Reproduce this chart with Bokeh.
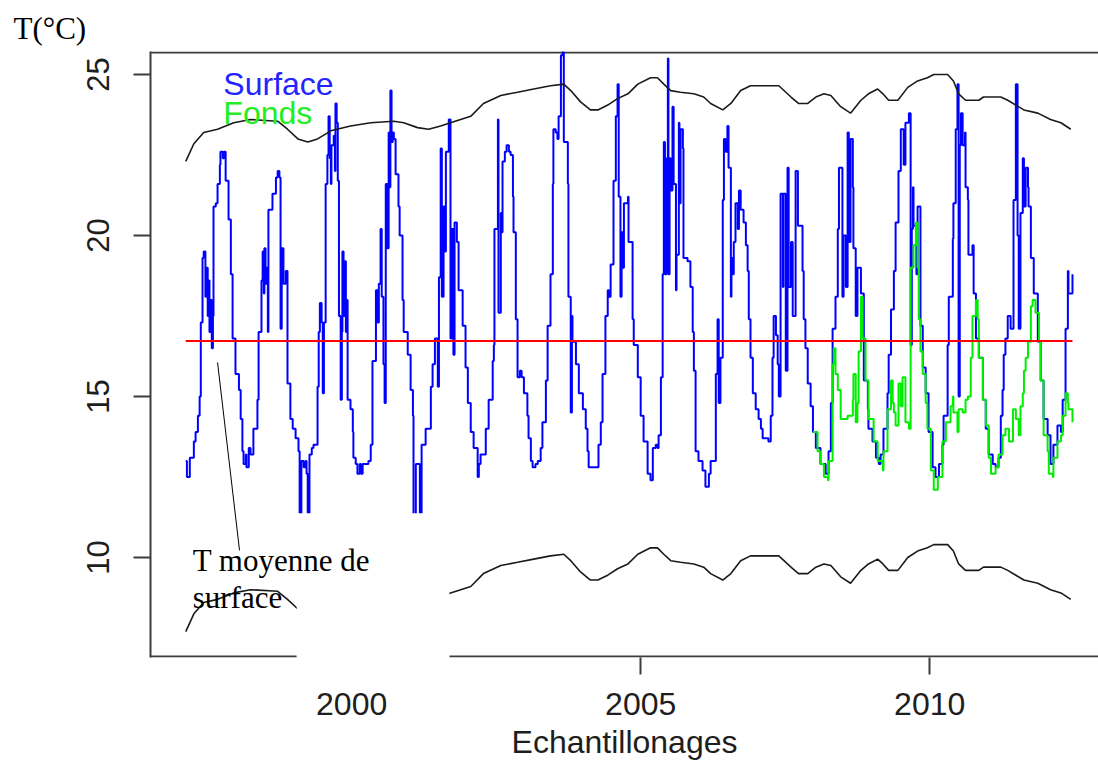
from bokeh.plotting import figure
from bokeh.models import Range1d, LinearAxis, FixedTicker, BoxAnnotation, Label
from bokeh.embed import file_html
from bokeh.resources import INLINE

# ---------------- data ----------------
surface_annee = [
    1997.13, 1997.15, 1997.20, 1997.27, 1997.30, 1997.34, 1997.37, 1997.39, 1997.42, 1997.44,
    1997.47, 1997.49, 1997.51, 1997.53, 1997.54, 1997.56, 1997.58, 1997.60, 1997.61, 1997.65,
    1997.68, 1997.72, 1997.73, 1997.77, 1997.79, 1997.82, 1997.87, 1997.91, 1997.94, 1997.99,
    1998.05, 1998.08, 1998.11, 1998.13, 1998.17, 1998.18, 1998.22, 1998.25, 1998.30, 1998.37,
    1998.39, 1998.44, 1998.46, 1998.48, 1998.49, 1998.51, 1998.53, 1998.55, 1998.56, 1998.63,
    1998.69, 1998.72, 1998.75, 1998.77, 1998.79, 1998.82, 1998.86, 1998.89, 1998.94, 1998.98,
    1999.03, 1999.08, 1999.10, 1999.13, 1999.17, 1999.20, 1999.22, 1999.24, 1999.27, 1999.31,
    1999.34, 1999.41, 1999.43, 1999.45, 1999.48, 1999.50, 1999.52, 1999.55, 1999.58, 1999.60,
    1999.62, 1999.64, 1999.65, 1999.69, 1999.71, 1999.72, 1999.74, 1999.76, 1999.78, 1999.81,
    1999.83, 1999.84, 1999.86, 1999.88, 1999.90, 1999.91, 1999.93, 1999.98, 2000.02, 2000.03,
    2000.07, 2000.10, 2000.14, 2000.16, 2000.19, 2000.29, 2000.33, 2000.36, 2000.42, 2000.45,
    2000.47, 2000.50, 2000.52, 2000.55, 2000.57, 2000.59, 2000.62, 2000.64, 2000.66, 2000.67,
    2000.69, 2000.71, 2000.73, 2000.76, 2000.81, 2000.83, 2000.88, 2000.90, 2000.97, 2001.02,
    2001.06, 2001.07, 2001.11, 2001.18, 2001.21, 2001.28, 2001.37, 2001.40, 2001.44, 2001.49,
    2001.51, 2001.54, 2001.56, 2001.59, 2001.61, 2001.63, 2001.68, 2001.71, 2001.73, 2001.76,
    2001.78, 2001.82, 2001.85, 2001.92, 2001.97, 2002.01, 2002.06, 2002.11, 2002.18, 2002.20,
    2002.23, 2002.32, 2002.37, 2002.44, 2002.46, 2002.47, 2002.53, 2002.54, 2002.58, 2002.60,
    2002.61, 2002.65, 2002.68, 2002.72, 2002.75, 2002.79, 2002.80, 2002.84, 2002.87, 2002.91,
    2002.94, 2002.98, 2003.04, 2003.06, 2003.10, 2003.13, 2003.18, 2003.22, 2003.27, 2003.30,
    2003.36, 2003.39, 2003.44, 2003.48, 2003.49, 2003.53, 2003.56, 2003.58, 2003.62, 2003.65,
    2003.67, 2003.74, 2003.75, 2003.79, 2003.81, 2003.82, 2003.88, 2003.93, 2004.00, 2004.05,
    2004.08, 2004.10, 2004.27, 2004.31, 2004.34, 2004.39, 2004.43, 2004.45, 2004.48, 2004.53,
    2004.57, 2004.60, 2004.62, 2004.65, 2004.67, 2004.69, 2004.71, 2004.78, 2004.79, 2004.86,
    2004.88, 2004.95, 2005.00, 2005.05, 2005.12, 2005.17, 2005.21, 2005.26, 2005.29, 2005.31,
    2005.35, 2005.38, 2005.40, 2005.42, 2005.45, 2005.47, 2005.48, 2005.50, 2005.52, 2005.55,
    2005.57, 2005.61, 2005.62, 2005.66, 2005.67, 2005.69, 2005.73, 2005.74, 2005.81, 2005.86,
    2005.90, 2005.92, 2005.95, 2006.00, 2006.07, 2006.12, 2006.18, 2006.21, 2006.30, 2006.33,
    2006.35, 2006.38, 2006.42, 2006.44, 2006.47, 2006.50, 2006.52, 2006.56, 2006.57, 2006.59,
    2006.61, 2006.64, 2006.68, 2006.70, 2006.73, 2006.78, 2006.82, 2006.85, 2006.87, 2006.90,
    2006.94, 2006.99, 2007.04, 2007.08, 2007.11, 2007.21, 2007.25, 2007.28, 2007.30, 2007.34,
    2007.37, 2007.39, 2007.42, 2007.46, 2007.47, 2007.51, 2007.54, 2007.56, 2007.60, 2007.63,
    2007.68, 2007.72, 2007.77, 2007.80, 2007.82, 2007.85, 2007.89, 2007.94, 2007.98, 2008.03,
    2008.11, 2008.20, 2008.25, 2008.29, 2008.32, 2008.37, 2008.41, 2008.43, 2008.48, 2008.49,
    2008.51, 2008.55, 2008.58, 2008.60, 2008.63, 2008.67, 2008.68, 2008.72, 2008.75, 2008.81,
    2008.86, 2008.93, 2008.94, 2009.01, 2009.07, 2009.12, 2009.15, 2009.20, 2009.27, 2009.29,
    2009.33, 2009.38, 2009.41, 2009.46, 2009.50, 2009.55, 2009.58, 2009.64, 2009.67, 2009.69,
    2009.71, 2009.72, 2009.77, 2009.79, 2009.84, 2009.88, 2009.93, 2009.98, 2010.05, 2010.10,
    2010.16, 2010.22, 2010.24, 2010.31, 2010.33, 2010.40, 2010.41, 2010.45, 2010.48, 2010.50,
    2010.52, 2010.54, 2010.57, 2010.61, 2010.62, 2010.66, 2010.67, 2010.71, 2010.74, 2010.76,
    2010.80, 2010.85, 2010.92, 2010.97, 2011.02, 2011.09, 2011.14, 2011.19, 2011.23, 2011.26,
    2011.28, 2011.31, 2011.35, 2011.40, 2011.45, 2011.49, 2011.52, 2011.54, 2011.57, 2011.61,
    2011.63, 2011.66, 2011.70, 2011.71, 2011.75, 2011.80, 2011.87, 2011.92, 2011.97, 2012.04,
    2012.09, 2012.14, 2012.21, 2012.27, 2012.30, 2012.35, 2012.39, 2012.40, 2012.47,
]
surface_temp = [
    13.0, 12.5, 13.1, 13.6, 13.9, 14.4, 15.0, 17.3, 19.3, 19.5,
    18.1, 19.0, 17.5, 18.6, 17.0, 18.0, 16.5, 17.5, 20.9, 21.0,
    21.6, 22.2, 22.6, 22.4, 22.6, 21.7, 20.5, 18.8, 16.8, 15.7,
    15.2, 14.3, 13.3, 12.9, 13.2, 12.8, 13.4, 13.2, 14.0, 14.9,
    17.0, 18.6, 19.5, 18.2, 19.6, 18.5, 19.0, 17.0, 20.8, 21.3,
    21.8, 22.0, 21.8, 17.1, 19.6, 18.5, 18.9, 15.4, 14.3, 14.0,
    13.7, 13.3, 7.4, 13.0, 12.8, 13.0, 12.6, 7.8, 13.2, 13.4,
    13.5, 15.3, 17.0, 17.9, 17.3, 15.1, 17.3, 21.6, 22.5, 23.7,
    22.4, 21.6, 22.8, 23.1, 22.0, 24.1, 23.5, 21.7, 17.5, 14.9,
    17.0, 19.5, 17.5, 19.2, 17.0, 18.0, 14.9, 14.6, 13.9, 13.1,
    12.9, 12.6, 12.9, 12.6, 12.9, 13.0, 13.5, 16.1, 18.3, 17.3,
    18.5, 20.2, 18.1, 16.0, 14.8, 21.6, 19.6, 23.2, 21.5, 24.5,
    22.9, 23.2, 23.0, 21.9, 20.9, 20.0, 18.0, 17.0, 16.3, 15.2,
    14.4, 7.8, 12.9, 7.6, 13.5, 14.0, 15.3, 16.0, 16.8, 15.3,
    18.7, 22.7, 18.1, 20.9, 19.5, 22.6, 23.6, 16.8, 20.2, 16.3,
    20.4, 19.8, 18.3, 17.2, 15.9, 14.8, 13.9, 13.4, 12.5, 12.9,
    13.2, 14.0, 14.9, 16.1, 16.6, 20.2, 23.6, 17.6, 20.7, 20.1,
    22.3, 22.6, 22.8, 22.6, 22.5, 21.2, 20.1, 17.4, 15.6, 15.8,
    15.6, 15.1, 14.4, 13.7, 13.0, 12.8, 12.9, 13.0, 13.4, 14.2,
    15.5, 17.2, 18.8, 21.6, 23.3, 23.2, 23.0, 23.7, 25.6, 25.7,
    22.9, 21.6, 18.1, 14.5, 17.5, 16.7, 16.0, 15.1, 14.6, 14.0,
    13.3, 12.8, 13.5, 14.2, 15.7, 17.5, 18.3, 18.1, 19.1, 21.7,
    23.7, 24.7, 21.2, 18.1, 20.1, 19.0, 21.0, 21.2, 19.8, 17.4,
    16.6, 15.6, 14.4, 13.6, 12.6, 12.4, 13.4, 13.5, 13.4, 13.8,
    15.6, 18.8, 22.9, 18.8, 22.4, 25.5, 18.8, 22.4, 21.4, 24.0,
    21.6, 18.3, 19.4, 23.5, 21.0, 23.3, 22.7, 19.3, 19.2, 18.4,
    17.0, 15.8, 13.3, 13.0, 12.7, 12.2, 12.6, 13.0, 15.7, 17.4,
    14.8, 16.2, 21.1, 23.0, 22.6, 23.4, 22.1, 18.1, 19.3, 18.8,
    19.8, 21.0, 20.2, 21.4, 20.8, 20.4, 19.7, 18.9, 17.4, 16.2,
    15.1, 14.6, 14.3, 14.0, 13.7, 13.6, 14.4, 16.2, 17.5, 16.9,
    16.0, 15.0, 21.3, 18.4, 21.3, 15.8, 22.1, 18.4, 19.8, 17.5,
    22.0, 20.3, 20.3, 18.9, 17.4, 16.5, 15.4, 14.7, 13.9, 13.4,
    12.9, 12.6, 13.3, 14.8, 17.1, 18.1, 20.2, 22.1, 22.1, 18.1,
    20.0, 18.4, 23.2, 19.8, 23.0, 21.5, 19.6, 17.5, 19.0, 18.2,
    15.5, 14.6, 14.0, 13.6, 13.1, 12.9, 13.2, 14.0, 15.1, 16.3,
    17.7, 18.9, 20.4, 22.0, 23.3, 22.2, 23.5, 23.8, 16.6, 20.2,
    21.5, 20.3, 18.8, 20.9, 17.2, 15.9, 15.1, 13.9, 12.8, 12.5,
    12.9, 13.5, 14.4, 16.6, 18.1, 19.9, 21.0, 23.3, 24.7, 15.0,
    22.8, 23.8, 22.8, 23.2, 21.5, 21.1, 19.4, 19.4, 19.7, 18.2,
    16.8, 16.2, 14.9, 14.0, 13.2, 12.9, 12.8, 13.1, 14.4, 15.2,
    16.3, 16.8, 17.5, 17.1, 21.1, 24.7, 20.0, 17.1, 20.7, 22.4,
    20.9, 22.1, 21.5, 20.9, 19.3, 18.2, 16.7, 15.5, 14.3, 13.8,
    12.9, 13.5, 14.1, 13.9, 14.9, 17.1, 18.9, 18.2, 18.8,
]

fonds_annee = [
    2007.98, 2008.06, 2008.11, 2008.17, 2008.24, 2008.25, 2008.32, 2008.34, 2008.37, 2008.41,
    2008.46, 2008.58, 2008.67, 2008.68, 2008.72, 2008.75, 2008.77, 2008.81, 2008.84, 2008.89,
    2008.94, 2009.03, 2009.10, 2009.19, 2009.20, 2009.27, 2009.33, 2009.36, 2009.38, 2009.41,
    2009.46, 2009.50, 2009.53, 2009.58, 2009.64, 2009.67, 2009.72, 2009.76, 2009.79, 2009.81,
    2009.84, 2009.88, 2009.93, 2009.96, 2010.02, 2010.07, 2010.14, 2010.22, 2010.28, 2010.36,
    2010.40, 2010.41, 2010.48, 2010.50, 2010.57, 2010.62, 2010.66, 2010.71, 2010.74, 2010.80,
    2010.83, 2010.85, 2010.92, 2010.97, 2011.02, 2011.06, 2011.14, 2011.19, 2011.26, 2011.31,
    2011.37, 2011.44, 2011.49, 2011.54, 2011.57, 2011.61, 2011.63, 2011.66, 2011.70, 2011.75,
    2011.78, 2011.83, 2011.89, 2011.92, 2011.97, 2012.04, 2012.06, 2012.13, 2012.14, 2012.21,
    2012.27, 2012.30, 2012.35, 2012.39, 2012.40, 2012.47,
]
fonds_temp = [
    13.9, 13.3, 12.9, 12.5, 12.4, 13.0, 16.0, 16.5, 15.7, 15.2,
    14.3, 14.4, 14.9, 15.7, 14.2, 14.8, 16.4, 18.1, 16.8, 15.5,
    14.3, 13.6, 13.0, 12.7, 13.3, 14.6, 15.5, 14.8, 14.5, 14.1,
    15.4, 14.7, 15.6, 14.2, 14.0, 19.0, 19.7, 20.4, 19.0, 17.4,
    16.4, 15.7, 14.8, 14.0, 12.7, 12.1, 12.5, 13.6, 14.2, 14.7,
    15.0, 14.5, 13.9, 14.6, 14.5, 14.9, 15.0, 16.2, 17.5, 18.0,
    17.4, 16.2, 14.9, 14.1, 13.1, 12.6, 12.8, 13.2, 13.8, 14.0,
    13.6, 14.6, 14.3, 13.8, 14.7, 15.1, 15.8, 16.2, 16.7, 17.8,
    18.0, 17.6, 16.7, 15.5, 13.8, 13.3, 12.6, 12.5, 13.1, 13.6,
    13.8, 14.4, 15.1, 14.8, 14.6, 14.2,
]

enveloppe_annee = [
    1997.13, 1997.27, 1997.44, 1997.68, 1997.96, 1998.25, 1998.72, 1998.89, 1999.07, 1999.24,
    1999.41, 1999.64, 1999.98, 2000.33, 2000.73, 2000.90, 2001.14, 2001.33, 2001.54, 2001.71,
    2002.06, 2002.28, 2002.58, 2002.87, 2003.15, 2003.44, 2003.67, 2003.79, 2003.96, 2004.13,
    2004.26, 2004.43, 2004.60, 2004.78, 2004.95, 2005.17, 2005.29, 2005.40, 2005.52, 2005.69,
    2005.92, 2006.09, 2006.21, 2006.42, 2006.56, 2006.73, 2006.90, 2007.39, 2007.60, 2007.73,
    2007.89, 2008.03, 2008.17, 2008.29, 2008.46, 2008.63, 2008.81, 2008.94, 2009.10, 2009.19,
    2009.29, 2009.45, 2009.62, 2009.79, 2009.96, 2010.07, 2010.31, 2010.41, 2010.50, 2010.62,
    2010.85, 2010.93, 2011.09, 2011.23, 2011.35, 2011.49, 2011.63, 2011.87, 2012.09, 2012.27,
    2012.44,
]
enveloppe_haut = [
    22.3, 22.85, 23.2, 23.3, 23.5, 23.6, 23.55, 23.3, 23.0, 22.9,
    23.0, 23.25, 23.4, 23.5, 23.55, 23.5, 23.35, 23.3, 23.4, 23.5,
    23.7, 24.1, 24.35, 24.45, 24.55, 24.65, 24.7, 24.5, 24.15, 23.9,
    23.9, 24.05, 24.25, 24.4, 24.7, 24.9, 24.9, 24.7, 24.5, 24.45,
    24.4, 24.3, 24.1, 23.9, 24.1, 24.5, 24.65, 24.65, 24.3, 24.1,
    24.1, 24.3, 24.4, 24.35, 24.0, 23.8, 24.2, 24.4, 24.55, 24.4,
    24.2, 24.2, 24.6, 24.8, 24.9, 25.0, 25.0, 24.8, 24.4, 24.2,
    24.2, 24.3, 24.3, 24.3, 24.2, 24.05, 23.9, 23.8, 23.6, 23.5,
    23.3,
]
enveloppe_bas = [
    7.7, 8.25, 8.6, 8.7, 8.9, 9.0, 8.95, 8.7, 8.4, 8.3,
    8.4, 8.65, 8.8, 8.9, 8.95, 8.9, 8.75, 8.7, 8.8, 8.9,
    9.1, 9.5, 9.75, 9.85, 9.95, 10.05, 10.1, 9.9, 9.55, 9.3,
    9.3, 9.45, 9.65, 9.8, 10.1, 10.3, 10.3, 10.1, 9.9, 9.85,
    9.8, 9.7, 9.5, 9.3, 9.5, 9.9, 10.05, 10.05, 9.7, 9.5,
    9.5, 9.7, 9.8, 9.75, 9.4, 9.2, 9.6, 9.8, 9.95, 9.8,
    9.6, 9.6, 10.0, 10.2, 10.3, 10.4, 10.4, 10.2, 9.8, 9.6,
    9.6, 9.7, 9.7, 9.7, 9.6, 9.45, 9.3, 9.2, 9.0, 8.9,
    8.7,
]

t_moyenne_surface = 16.72
x_ticks = [2000, 2005, 2010]
y_ticks = [10, 15, 20, 25]

# ---------------- layout / style ----------------
SANS = "Liberation Sans"
SERIF = "Liberation Serif"
AXIS_COLOR = "#3c3c3c"
TEXT_COLOR = "#1e1e1e"
X0, X1 = 1996.52, 2012.92
Y0, Y1 = 6.894, 25.714
PX_Y = 32.2                      # pixels per degree on the frame
PATCH = dict(left=1999.05, right=2001.69, top=11.37)   # white patch pasted over the original

p = figure(width=1098, height=780, output_backend="svg", toolbar_location=None,
           x_range=Range1d(X0, X1), y_range=Range1d(Y0, Y1),
           x_axis_type=None, y_axis_type=None,
           min_border_left=150, min_border_right=0, min_border_top=51, min_border_bottom=123)
p.outline_line_color = None
p.background_fill_color = "white"
p.border_fill_color = "white"

# unit label at the top-left
p.title.text = "T(°C)"
p.title.align = "left"
p.title.offset = -137
p.title.text_font = SERIF
p.title.text_font_size = "31px"
p.title.text_font_style = "normal"
p.title.text_color = "black"
p.title.standoff = 11

# x axis: labels on every tick; tick marks only where the pasted patch does not hide them
x_tick_marks = [t for t in x_ticks if not (PATCH["left"] < t < PATCH["right"])]
xa = LinearAxis(ticker=FixedTicker(ticks=x_ticks, minor_ticks=x_tick_marks),
                axis_label="Echantillonages")
xa.axis_line_color = None
xa.major_tick_line_color = None
xa.major_tick_out = 17
xa.major_tick_in = 0
xa.minor_tick_line_color = AXIS_COLOR
xa.minor_tick_line_width = 2
xa.minor_tick_out = 17
xa.minor_tick_in = 0
xa.major_label_text_font = SANS
xa.major_label_text_font_size = "32px"
xa.major_label_text_color = TEXT_COLOR
xa.major_label_standoff = 18
xa.axis_label_text_font = SANS
xa.axis_label_text_font_size = "32px"
xa.axis_label_text_font_style = "normal"
xa.axis_label_text_color = TEXT_COLOR
xa.axis_label_standoff = 6
p.add_layout(xa, "below")

ya = LinearAxis(ticker=FixedTicker(ticks=y_ticks), major_label_orientation="vertical")
ya.axis_line_color = AXIS_COLOR
ya.axis_line_width = 2
ya.major_tick_line_color = AXIS_COLOR
ya.major_tick_line_width = 2
ya.major_tick_out = 17
ya.major_tick_in = 0
ya.minor_tick_line_color = None
ya.major_label_text_font = SANS
ya.major_label_text_font_size = "31px"
ya.major_label_text_color = TEXT_COLOR
ya.major_label_standoff = 24
p.add_layout(ya, "left")

# frame top line and bottom line (with the gap of the pasted patch)
y_top_line = Y1 - 1.0 / PX_Y
y_bot_line = Y0 + 1.0 / PX_Y
p.segment(x0=[X0, X0, PATCH["right"]], y0=[y_top_line, y_bot_line, y_bot_line],
          x1=[X1, PATCH["left"], X1], y1=[y_top_line, y_bot_line, y_bot_line],
          line_color=AXIS_COLOR, line_width=2)

# series
p.step(surface_annee, surface_temp, mode="after", line_color="#0000ff", line_width=2)
p.step(fonds_annee, fonds_temp, mode="after", line_color="#00ee00", line_width=2)
p.line(enveloppe_annee, enveloppe_haut, line_color="#1a1a1a", line_width=1.6)
p.line(enveloppe_annee, enveloppe_bas, line_color="#1a1a1a", line_width=1.6)
p.line([surface_annee[0], surface_annee[-1]], [t_moyenne_surface, t_moyenne_surface],
       line_color="#ff0000", line_width=2)

# legend texts
p.add_layout(Label(x=1997.78, y=24.69, text="Surface", text_font=SANS, text_font_size="32px",
                   text_color="#2424ff", text_baseline="alphabetic"))
p.add_layout(Label(x=1997.78, y=23.79, text="Fonds", text_font=SANS, text_font_size="32px",
                   text_color="#22ee22", text_baseline="alphabetic"))

# pasted-over white patch and callout of the original figure
p.add_layout(BoxAnnotation(left=PATCH["left"], right=PATCH["right"], top=PATCH["top"], bottom=Y0,
                           fill_color="white", fill_alpha=1.0, line_color=None, level="overlay"))
p.segment(x0=[1997.68], y0=[16.06], x1=[1998.06], y1=[10.22], line_color="black", line_width=1)
p.add_layout(Label(x=1997.25, y=9.91, text="T moyenne de", text_font=SERIF, text_font_size="31px",
                   text_color="black", text_baseline="alphabetic", level="overlay"))
p.add_layout(Label(x=1997.25, y=8.76, text="surface", text_font=SERIF, text_font_size="31px",
                   text_color="black", text_baseline="alphabetic", level="overlay"))

open("out.html", "w").write(file_html(p, INLINE))
